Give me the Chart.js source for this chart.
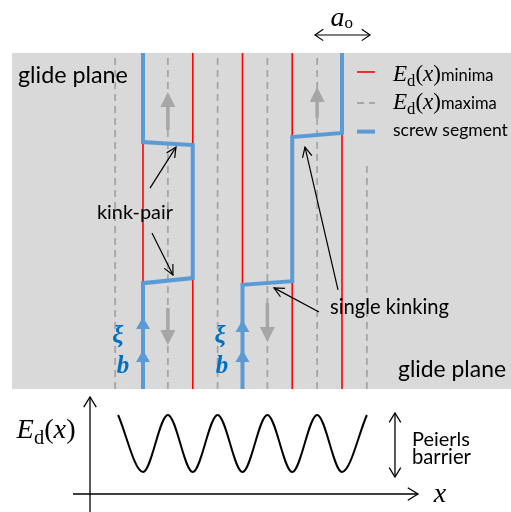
<!DOCTYPE html>
<html>
<head>
<meta charset="utf-8">
<script src="https://cdn.jsdelivr.net/npm/chart.js@4/dist/chart.umd.min.js"></script>
<style>
  html, body { margin: 0; padding: 0; background: #ffffff; }
  canvas { display: block; }
</style>
</head>
<body>
<canvas id="kinks" width="511" height="512"></canvas>
<script>
// x is measured in lattice periods a_o: E_d(x) minima sit on integers, maxima half-way between.
// Heights in the glide plane run from 0 (bottom edge) to 10 (top edge).
const minimaX = [0, 1, 2, 3, 4];
const maximaX = [-0.56, 0.5, 1.5, 2.5, 3.5, 4.5];
const maximaTop = [10, 10, 10, 10, 10, 6.67];

// screw dislocation with a kink pair, and one that has advanced by single kinking
const kinkPairX = [0, 0, 1, 1, 0, 0];
const kinkPairY = [10, 7.35, 7.26, 3.30, 3.15, 0];
const singleKinkX = [2, 2, 3, 3, 4, 4];
const singleKinkY = [0, 3.10, 3.21, 7.50, 7.62, 10];

// grey glide-direction arrows (tail -> tip)
const glideX = [0.5, 3.5, 0.5, 2.5];
const glideTail = [7.71, 8.07, 2.41, 2.56];
const glideTip = [8.84, 8.99, 1.31, 1.40];

// blue arrowheads for line sense ξ and Burgers vector b
const senseX = [0, 0, 2, 2];
const senseTip = [2.14, 1.16, 2.05, 1.16];

// Peierls energy landscape E_d(x), in units of the barrier height
const waveX = [-0.5, 0, 0.5, 1, 1.5, 2, 2.5, 3, 3.5, 4, 4.5];
const waveE = [1, 0, 1, 0, 1, 0, 1, 0, 1, 0, 1];

// callout arrows (from -> to) in the glide plane
const calloutFromX = [0.141, 0.181, 3.538, 3.920];
const calloutFromY = [5.98, 4.64, 2.29, 2.95];
const calloutToX = [0.663, 0.603, 2.633, 3.256];
const calloutToY = [7.20, 3.39, 3.01, 7.20];

// scale ranges
const X_MIN = -2.874, X_MAX = 7.397;
const Y_MIN = -3.661, Y_MAX = 11.577;
const E_MIN = -0.702, E_MAX = 8.281;
const PANEL_LEFT = -2.633;

const RED = '#ff0000';
const DASH_GREY = '#a6a6a6';
const BLUE = '#5b9bd5';
const PANEL = '#d9d9d9';
const ARROW_GREY = '#a6a6a6';
const TEXT_BLUE = '#0070c0';
const SANS = 'Lato, "Open Sans", sans-serif';
const SERIF = '"Liberation Serif", "DejaVu Serif", serif';

const pts = (xs, ys) => xs.map((x, i) => ({ x, y: ys[i] }));

const datasets = [];
minimaX.forEach(x => datasets.push({
  data: [{ x, y: 0 }, { x, y: 10 }], yAxisID: 'y',
  borderColor: RED, borderWidth: 1.6, order: 3
}));
maximaX.forEach((x, i) => datasets.push({
  data: [{ x, y: 0 }, { x, y: maximaTop[i] }], yAxisID: 'y',
  borderColor: DASH_GREY, borderWidth: 1.8, borderDash: [7, 5], order: 4
}));
datasets.push({ data: pts(kinkPairX, kinkPairY), yAxisID: 'y', borderColor: BLUE, borderWidth: 4, order: 1 });
datasets.push({ data: pts(singleKinkX, singleKinkY), yAxisID: 'y', borderColor: BLUE, borderWidth: 4, order: 1 });
datasets.push({
  data: pts(waveX, waveE), yAxisID: 'yE', borderColor: '#000000', borderWidth: 2,
  cubicInterpolationMode: 'monotone', order: 1
});
datasets.forEach(d => { d.showLine = true; d.pointRadius = 0; d.fill = false; });

// ---------- drawing helpers ----------
function openHead(ctx, xf, yf, xt, yt, len, ang) {
  const a = Math.atan2(yt - yf, xt - xf);
  ctx.beginPath();
  ctx.moveTo(xt - len * Math.cos(a - ang), yt - len * Math.sin(a - ang));
  ctx.lineTo(xt, yt);
  ctx.lineTo(xt - len * Math.cos(a + ang), yt - len * Math.sin(a + ang));
  ctx.stroke();
}
function arrow(ctx, x1, y1, x2, y2, len, ang, both) {
  ctx.beginPath(); ctx.moveTo(x1, y1); ctx.lineTo(x2, y2); ctx.stroke();
  openHead(ctx, x1, y1, x2, y2, len, ang);
  if (both) openHead(ctx, x2, y2, x1, y1, len, ang);
}
function solidHead(ctx, x, yTip, dir, len, half, color) {
  ctx.fillStyle = color;
  ctx.beginPath();
  ctx.moveTo(x, yTip);
  ctx.lineTo(x - half, yTip + dir * len);
  ctx.lineTo(x + half, yTip + dir * len);
  ctx.closePath();
  ctx.fill();
}
// sans label sized to a given width
function sansLabel(ctx, text, x, y, width, align) {
  ctx.font = `20px ${SANS}`;
  const s = 20 * width / ctx.measureText(text).width;
  ctx.font = `${s.toFixed(2)}px ${SANS}`;
  ctx.textAlign = align; ctx.textBaseline = 'middle'; ctx.fillStyle = '#000';
  ctx.fillText(text, x, y);
}
// E_d(x) written with italic E, x and an upright subscript d
function mathRuns(size) {
  return [
    { t: 'E', f: `italic ${size}px ${SERIF}`, dy: 0 },
    { t: 'd', f: `${size * 0.72}px ${SERIF}`, dy: size * 0.2 },
    { t: '(', f: `${size}px ${SERIF}`, dy: 0 },
    { t: 'x', f: `italic ${size}px ${SERIF}`, dy: 0 },
    { t: ')', f: `${size}px ${SERIF}`, dy: 0 }
  ];
}
function runsWidth(ctx, runs) {
  let w = 0;
  for (const r of runs) { ctx.font = r.f; w += ctx.measureText(r.t).width; }
  return w;
}
function mathSize(ctx, width) {
  return 20 * width / runsWidth(ctx, mathRuns(20));
}
function drawRuns(ctx, runs, x, y) {
  ctx.textAlign = 'left'; ctx.textBaseline = 'alphabetic'; ctx.fillStyle = '#000';
  for (const r of runs) {
    ctx.font = r.f;
    ctx.fillText(r.t, x, y + r.dy);
    x += ctx.measureText(r.t).width;
  }
  return x;
}

const schematic = {
  id: 'schematic',
  beforeDraw(chart) {
    const ctx = chart.ctx;
    ctx.save(); ctx.fillStyle = '#ffffff';
    ctx.fillRect(0, 0, chart.width, chart.height); ctx.restore();
  },
  beforeDatasetsDraw(chart) {
    const { ctx, scales: { x, y } } = chart;
    ctx.save();
    ctx.fillStyle = PANEL;
    const l = x.getPixelForValue(PANEL_LEFT), r = x.getPixelForValue(X_MAX);
    const t = y.getPixelForValue(10), b = y.getPixelForValue(0);
    ctx.fillRect(l, t, r - l, b - t);
    ctx.restore();
  },
  afterDatasetsDraw(chart) {
    const { ctx, scales: { x, y, yE } } = chart;
    const X = v => x.getPixelForValue(v), Y = v => y.getPixelForValue(v), E = v => yE.getPixelForValue(v);
    ctx.save();

    // glide direction arrows
    glideX.forEach((gx, i) => {
      const px = X(gx), tail = Y(glideTail[i]), tip = Y(glideTip[i]);
      const dir = tip < tail ? 1 : -1;
      ctx.strokeStyle = ARROW_GREY; ctx.lineWidth = 3.5; ctx.lineCap = 'butt';
      ctx.beginPath(); ctx.moveTo(px, tail); ctx.lineTo(px, tip + dir * 12); ctx.stroke();
      solidHead(ctx, px, tip, dir, 15, 7.5, ARROW_GREY);
    });

    // line sense / Burgers vector arrowheads
    senseX.forEach((sx, i) => solidHead(ctx, X(sx), Y(senseTip[i]), 1, 12, 7, BLUE));

    // callout arrows
    ctx.strokeStyle = '#000'; ctx.lineWidth = 1.2;
    calloutFromX.forEach((cx, i) => arrow(ctx, X(cx), Y(calloutFromY[i]), X(calloutToX[i]), Y(calloutToY[i]), 11, 0.45, false));

    // a_o period marker
    arrow(ctx, X(3.457), Y(10.536), X(4.563), Y(10.536), 10, 0.6, true);
    ctx.textAlign = 'left'; ctx.textBaseline = 'alphabetic'; ctx.fillStyle = '#000';
    ctx.font = `italic 28px ${SERIF}`;
    const aW = ctx.measureText('a').width;
    const ax = X(4.0) - (aW + 9) / 2;
    ctx.fillText('a', ax, Y(10.8));
    ctx.font = `17px ${SERIF}`;
    ctx.fillText('o', ax + aW, Y(10.73));

    // labels in the glide plane
    sansLabel(ctx, 'glide plane', X(-2.513), Y(9.345), 110, 'left');
    sansLabel(ctx, 'glide plane', X(7.296), Y(0.565), 108, 'right');
    sansLabel(ctx, 'kink-pair', X(-0.161), Y(5.238), 76, 'center');
    sansLabel(ctx, 'single kinking', X(3.759), Y(2.411), 119, 'left');

    // ξ and b
    ctx.fillStyle = TEXT_BLUE; ctx.textAlign = 'center'; ctx.textBaseline = 'middle';
    ctx.font = `bold italic 25px ${SERIF}`;
    ctx.fillText('ξ', X(-0.503), Y(1.55));
    ctx.fillText('ξ', X(1.548), Y(1.55));
    ctx.font = `bold italic 25px ${SERIF}`;
    ctx.fillText('b', X(-0.402), Y(0.66));
    ctx.fillText('b', X(1.588), Y(0.66));

    // legend
    const lx0 = X(4.302), lx1 = X(4.663);
    ctx.lineCap = 'butt';
    ctx.strokeStyle = RED; ctx.lineWidth = 1.6;
    ctx.beginPath(); ctx.moveTo(lx0, Y(9.435)); ctx.lineTo(lx1, Y(9.435)); ctx.stroke();
    ctx.strokeStyle = DASH_GREY; ctx.lineWidth = 1.8; ctx.setLineDash([7, 5]);
    ctx.beginPath(); ctx.moveTo(lx0, Y(8.512)); ctx.lineTo(lx1, Y(8.512)); ctx.stroke();
    ctx.setLineDash([]);
    ctx.strokeStyle = BLUE; ctx.lineWidth = 4;
    ctx.beginPath(); ctx.moveTo(lx0, Y(7.66)); ctx.lineTo(lx1, Y(7.66)); ctx.stroke();
    const tx = X(5.025);
    const legendMath = mathSize(ctx, 48);
    let end = drawRuns(ctx, mathRuns(legendMath), tx, Y(9.345) + 6);
    ctx.font = `16.5px ${SANS}`; ctx.textBaseline = 'alphabetic';
    ctx.fillText('minima', end, Y(9.345) + 6);
    end = drawRuns(ctx, mathRuns(legendMath), tx, Y(8.512) + 6);
    ctx.font = `16.5px ${SANS}`;
    ctx.fillText('maxima', end, Y(8.512) + 6);
    sansLabel(ctx, 'screw segment', tx, Y(7.708), 115, 'left');

    // energy plot axes
    ctx.strokeStyle = '#000'; ctx.lineWidth = 1.3;
    arrow(ctx, X(-1.407), E(-0.386), X(5.528), E(-0.386), 12, 0.55, false);
    arrow(ctx, X(-1.065), E(-0.702), X(-1.065), E(1.316), 12, 0.55, false);
    arrow(ctx, X(5.065), E(1.035), X(5.065), E(-0.088), 11, 0.55, true);
    drawRuns(ctx, mathRuns(mathSize(ctx, 59)), X(-2.54), E(0.737) + 8);
    ctx.font = `italic 28px ${SERIF}`; ctx.textAlign = 'center'; ctx.textBaseline = 'middle';
    ctx.fillText('x', X(5.97), E(-0.40));
    sansLabel(ctx, 'Peierls', X(5.407), E(0.561), 58, 'left');
    sansLabel(ctx, 'barrier', X(5.407), E(0.246), 59, 'left');

    ctx.restore();
  }
};

new Chart(document.getElementById('kinks'), {
  type: 'scatter',
  data: { datasets },
  options: {
    responsive: false,
    animation: false,
    devicePixelRatio: 1,
    events: [],
    layout: { padding: 0 },
    plugins: { legend: { display: false }, tooltip: { enabled: false } },
    elements: { line: { borderCapStyle: 'butt', borderJoinStyle: 'miter', tension: 0 } },
    scales: {
      x: { type: 'linear', min: X_MIN, max: X_MAX, display: false },
      y: { type: 'linear', min: Y_MIN, max: Y_MAX, display: false },
      yE: { type: 'linear', min: E_MIN, max: E_MAX, display: false }
    }
  },
  plugins: [schematic]
});
</script>
</body>
</html>
